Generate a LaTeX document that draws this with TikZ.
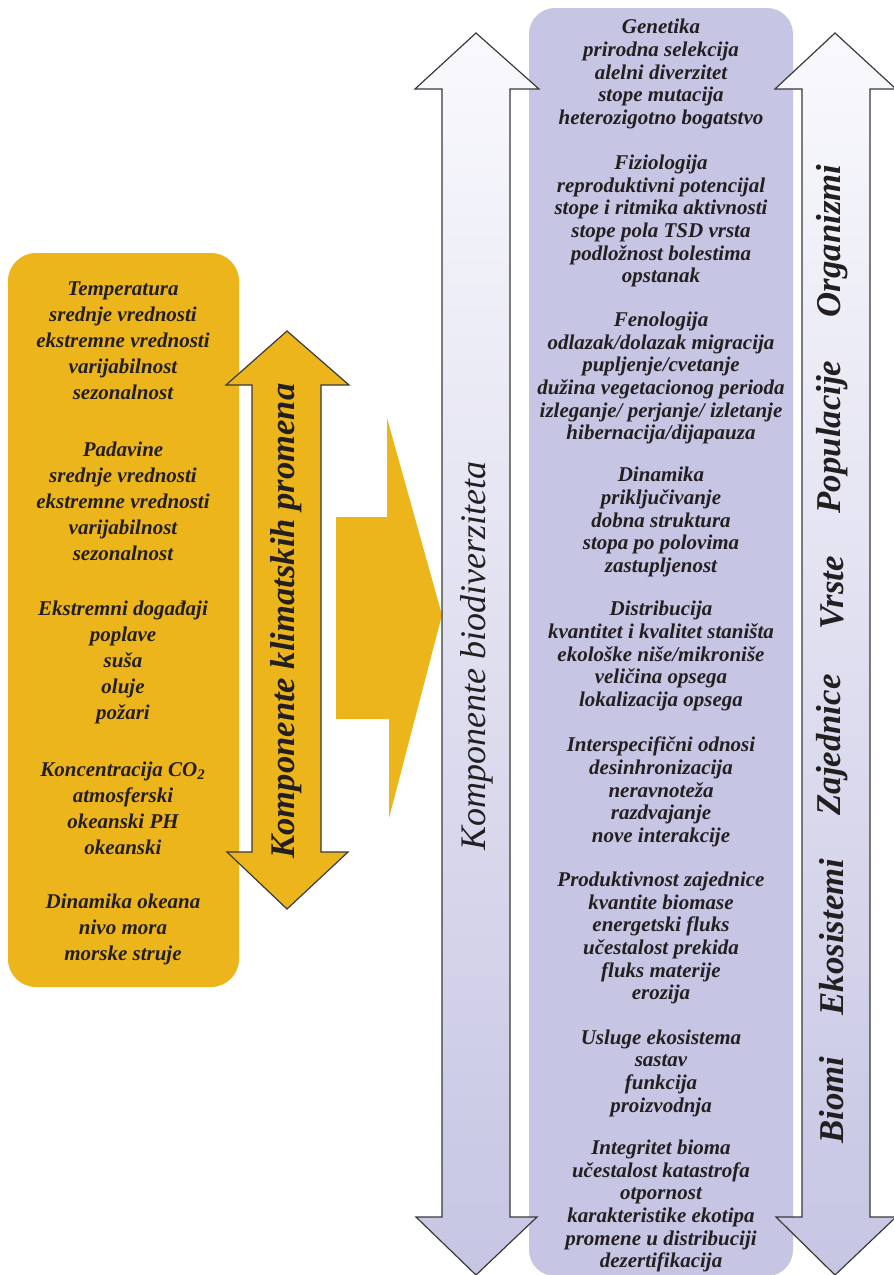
\documentclass[tikz,border=0pt]{standalone}
\usepackage{fontspec}
\setmainfont{Liberation Serif}
\usepackage{tikz}
\usetikzlibrary{positioning}
\definecolor{cOrange}{HTML}{EDB51C}
\definecolor{cLav}{HTML}{C6C5E3}
\definecolor{cLavL}{HTML}{F9F9FD}
\definecolor{cInk}{HTML}{231F20}
\definecolor{cEdge}{HTML}{3A3A3A}

\begin{document}
\begin{tikzpicture}[x=0.5pt, y=-0.5pt,
    edge/.style={draw=cEdge, line width=0.6pt},
    lavshade/.style={top color=cLavL, bottom color=cLav, edge},
    clim/.style={align=center, inner sep=0pt, text=cInk,
      font=\fontsize{10.5}{13}\selectfont\bfseries\itshape},
    bio/.style={align=center, inner sep=0pt, text=cInk,
      font=\fontsize{10.5}{11.35}\selectfont\bfseries\itshape},
    level/.style={rotate=90, inner sep=0pt, text=cInk,
      font=\fontsize{17.4}{20}\selectfont\bfseries\itshape}]
  \fill[white] (0,0) rectangle (894,1275);
  \clip (0,0) rectangle (894,1275);
  % climate side
  \fill[cOrange, rounded corners=14pt] (8,253) rectangle (239,987);
  \fill[cOrange] (336,517) -- (387,517) -- (387,418) -- (442,615)
    -- (389,818) -- (389,719) -- (336,719) -- cycle;
  \filldraw[fill=cOrange, edge] (287,331) -- (349,385) -- (321,385) -- (321,852)
    -- (348,852) -- (287,909) -- (227,852) -- (252,852) -- (252,385) -- (226,385) -- cycle;
  % biodiversity side
  \fill[cLav, rounded corners=13pt] (529,8) rectangle (793,1276);
  \shadedraw[lavshade] (476,33) -- (539,89) -- (510,89) -- (510,1217)
    -- (537,1217) -- (476,1275) -- (416,1217) -- (442,1217) -- (442,89) -- (415,89) -- cycle;
  \shadedraw[lavshade] (835,33) -- (896,89) -- (870,89) -- (870,1217)
    -- (896,1217) -- (835,1275) -- (776,1217) -- (802,1217) -- (802,89) -- (775,89) -- cycle;

  \node[clim] (tmp) at (123,341) {Temperatura\\ srednje vrednosti\\ ekstremne vrednosti\\ varijabilnost\\ sezonalnost};
  \node[clim] (pad) at (123,501) {Padavine\\ srednje vrednosti\\ ekstremne vrednosti\\ varijabilnost\\ sezonalnost};
  \node[clim] (ekst) at (123,662) {Ekstremni događaji\\ poplave\\ suša\\ oluje\\ požari};
  \node[clim] (co2) at (123,808) {Koncentracija CO\textsubscript{2}\\ atmosferski\\ okeanski PH\\ okeanski};
  \node[clim] (ocn) at (123,929) {Dinamika okeana\\ nivo mora\\ morske struje};
  \node[rotate=90, inner sep=0pt, text=cInk,
    font=\fontsize{17.3}{20}\selectfont\bfseries\itshape] (klima) at (286,621) {Komponente klimatskih promena};

  \node[rotate=90, inner sep=0pt, text=cInk,
    font=\fontsize{18}{20}\selectfont\itshape] (biodiv) at (477,656) {Komponente biodiverziteta};

  \node[bio] (gen) at (661,74) {Genetika\\ prirodna selekcija\\ alelni diverzitet\\ stope mutacija\\ heterozigotno bogatstvo};
  \node[bio] (fiz) at (661,221) {Fiziologija\\ reproduktivni potencijal\\ stope i ritmika aktivnosti\\ stope pola TSD vrsta\\ podložnost bolestima\\ opstanak};
  \node[bio] (fen) at (661,378) {Fenologija\\ odlazak/dolazak migracija\\ pupljenje/cvetanje\\ dužina vegetacionog perioda\\ izleganje/ perjanje/ izletanje\\ hibernacija/dijapauza};
  \node[bio] (din) at (661,522) {Dinamika\\ priključivanje\\ dobna struktura\\ stopa po polovima\\ zastupljenost};
  \node[bio] (dist) at (661,656) {Distribucija\\ kvantitet i kvalitet staništa\\ ekološke niše/mikroniše\\ veličina opsega\\ lokalizacija opsega};
  \node[bio] (inter) at (661,792) {Interspecifični odnosi\\ desinhronizacija\\ neravnoteža\\ razdvajanje\\ nove interakcije};
  \node[bio] (prod) at (661,938) {Produktivnost zajednice\\ kvantite biomase\\ energetski fluks\\ učestalost prekida\\ fluks materije\\ erozija};
  \node[bio] (usl) at (661,1073) {Usluge ekosistema\\ sastav\\ funkcija\\ proizvodnja};
  \node[bio] (integ) at (661,1206) {Integritet bioma\\ učestalost katastrofa\\ otpornost\\ karakteristike ekotipa\\ promene u distribuciji\\ dezertifikacija};

  \node[level] (org) at (832,241) {Organizmi};
  \node[level] (pop) at (832,437) {Populacije};
  \node[level] (vrs) at (832,593) {Vrste};
  \node[level] (zaj) at (832,745) {Zajednice};
  \node[level] (eko) at (832,937) {Ekosistemi};
  \node[level] (bim) at (832,1100) {Biomi};
\end{tikzpicture}
\end{document}
